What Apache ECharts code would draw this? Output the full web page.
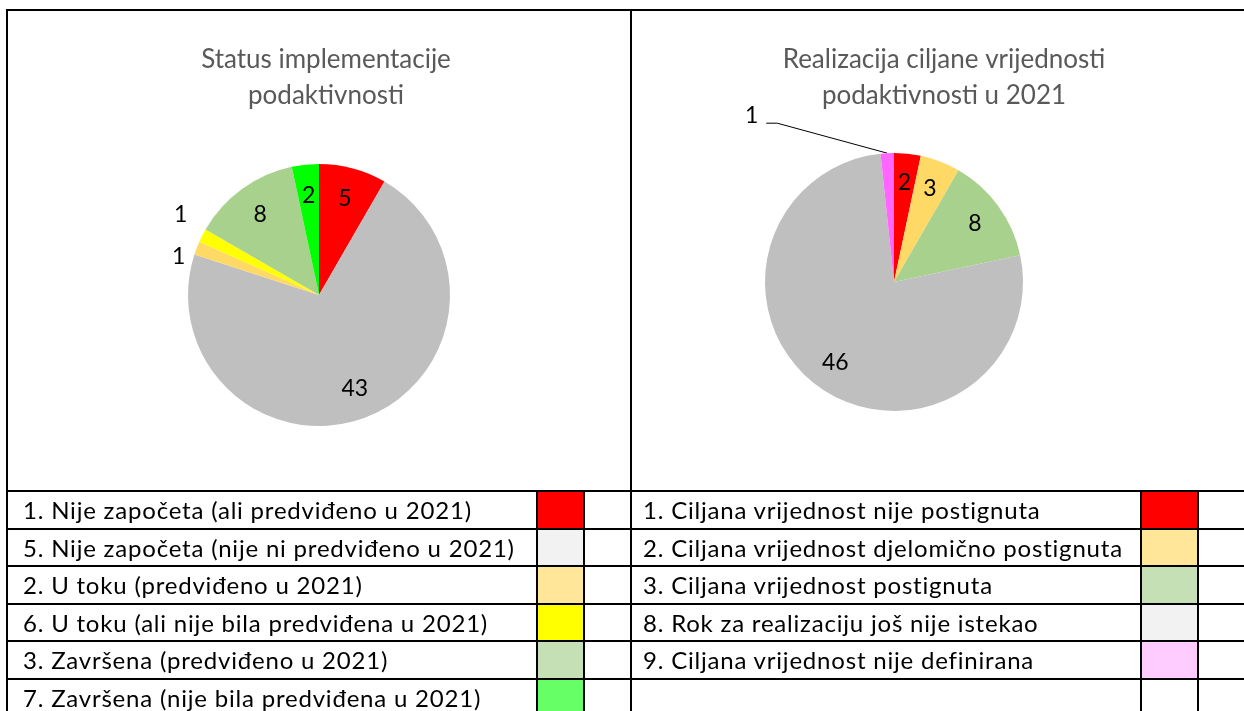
<!DOCTYPE html>
<html>
<head>
<meta charset="utf-8">
<script src="https://cdn.jsdelivr.net/npm/echarts@6/dist/echarts.min.js"></script>
<style>
body { margin: 0; background: #fff; }
#chart { position: absolute; left: 0; top: 0; width: 1244px; height: 711px; }
#table { position: absolute; left: 0; top: 0; width: 1244px; height: 711px; overflow: hidden; pointer-events: none; }
.ln { position: absolute; background: #000; }
.sw { position: absolute; }
.cell { position: absolute; font-family: Lato, sans-serif; font-size: 24px; letter-spacing: 0.8px; color: #000; white-space: nowrap; }
</style>
</head>
<body>
<div id="chart"></div>
<div id="table"></div>
<script>
// left chart: status of sub-activities
var statusNames = [
  '1. Nije započeta (ali predviđeno u 2021)',
  '5. Nije započeta (nije ni predviđeno u 2021)',
  '2. U toku (predviđeno u 2021)',
  '6. U toku (ali nije bila predviđena u 2021)',
  '3. Završena (predviđeno u 2021)',
  '7. Završena (nije bila predviđena u 2021)'
];
var statusValues = [5, 43, 1, 1, 8, 2];
var statusColors = ['#ff0000', '#bfbfbf', '#ffd966', '#ffff00', '#a9d18e', '#00ff00'];
var statusLegend = statusNames.slice();
var statusLegendColors = ['#ff0000', '#f2f2f2', '#ffe699', '#ffff00', '#c5e0b4', '#66ff66'];

// right chart: target value realisation
var targetNames = [
  '1. Ciljana vrijednost nije postignuta',
  '2. Ciljana vrijednost djelomično postignuta',
  '3. Ciljana vrijednost postignuta',
  '8. Rok za realizaciju još nije istekao',
  '9. Ciljana vrijednost nije definirana'
];
var targetValues = [2, 3, 8, 46, 1];
var targetColors = ['#ff0000', '#ffd966', '#a9d18e', '#bfbfbf', '#ff66ff'];
var targetLegend = targetNames.slice();
var targetLegendColors = ['#ff0000', '#ffe699', '#c5e0b4', '#f2f2f2', '#ffccff'];

var LABEL_R = 100;

// move inside labels further out, outside ones by a fixed nudge
function makeLayout(cx, cy, special) {
  return function (p) {
    if (special[p.dataIndex]) return special[p.dataIndex](p);
    var r = p.labelRect;
    var vx = r.x + r.width / 2 - cx, vy = r.y + r.height / 2 - cy;
    var len = Math.sqrt(vx * vx + vy * vy) || 1;
    return { dx: vx / len * LABEL_R - vx, dy: vy / len * LABEL_R - vy };
  };
}

function buildData(names, values, colors, outside) {
  return values.map(function (v, i) {
    var d = { value: v, name: names[i], itemStyle: { color: colors[i] } };
    if (outside[i]) {
      d.label = { position: 'outside' };
      d.labelLine = outside[i];
    }
    return d;
  });
}

var labelFont = { fontFamily: 'Lato', fontSize: 23, color: '#000' };
var titleFont = { fontFamily: 'Lato', fontSize: 26, fontWeight: 'normal', color: '#595959', lineHeight: 36 };

var myChart = echarts.init(document.getElementById('chart'));
myChart.setOption({
  animation: false,
  title: [
    { text: 'Status implementacije\npodaktivnosti', left: 326, top: 42, textAlign: 'center', padding: 0, textStyle: titleFont },
    { text: 'Realizacija ciljane vrijednosti\npodaktivnosti u 2021', left: 944, top: 42, textAlign: 'center', padding: 0, textStyle: titleFont }
  ],
  series: [
    {
      type: 'pie',
      center: [319, 295],
      radius: 131,
      startAngle: 90,
      clockwise: true,
      avoidLabelOverlap: false,
      silent: true,
      label: Object.assign({ show: true, position: 'inside', formatter: '{c}' }, labelFont),
      labelLine: { show: false },
      labelLayout: makeLayout(319, 295, {
        2: function () { return { dx: 3, dy: 12 }; },
        3: function () { return { dx: -1, dy: -16 }; }
      }),
      data: buildData(statusNames, statusValues, statusColors, {
        2: { show: false, length: 10, length2: 0 },
        3: { show: false, length: 10, length2: 0 }
      })
    },
    {
      type: 'pie',
      center: [894, 282],
      radius: 129,
      startAngle: 90,
      clockwise: true,
      avoidLabelOverlap: false,
      silent: true,
      label: Object.assign({ show: true, position: 'inside', formatter: '{c}' }, labelFont),
      labelLine: { show: false },
      labelLayout: makeLayout(894, 282, {
        4: function (p) {
          var e = p.labelLinePoints[0];
          return {
            x: e[0] - 129, y: e[1] - 38, align: 'right', verticalAlign: 'middle',
            labelLinePoints: [e, [e[0] - 110, e[1] - 30], [e[0] - 121, e[1] - 30]]
          };
        }
      }),
      data: buildData(targetNames, targetValues, targetColors, {
        4: { show: true, length: 10, length2: 10, lineStyle: { color: '#000', width: 1 } }
      })
    }
  ]
});

// legend table drawn underneath the charts
var table = document.getElementById('table');
function box(cls, x, y, w, h, bg) {
  var d = document.createElement('div');
  d.className = cls;
  d.style.left = x + 'px'; d.style.top = y + 'px';
  d.style.width = w + 'px'; d.style.height = h + 'px';
  if (bg) d.style.background = bg;
  table.appendChild(d);
  return d;
}
var ROW0 = 490, ROW_H = 37.5;
// outer frame
box('ln', 6, 9, 1238, 2);
box('ln', 6, 9, 2, 702);
box('ln', 630, 9, 2, 702);
for (var i = 0; i < 6; i++) {
  var y = Math.round(ROW0 + i * ROW_H);
  var yn = Math.round(ROW0 + (i + 1) * ROW_H);
  box('ln', 6, y, 1238, 2);
  if (i < statusLegend.length) {
    box('sw', 538, y + 2, 45, yn - y - 2, statusLegendColors[i]);
    var t = box('cell', 23, y + 2, 510, yn - y - 2);
    t.style.lineHeight = (yn - y - 2) + 'px';
    t.textContent = statusLegend[i];
  }
  if (i < targetLegend.length) {
    box('sw', 1142, y + 2, 55, yn - y - 2, targetLegendColors[i]);
    var t2 = box('cell', 643, y + 2, 495, yn - y - 2);
    t2.style.lineHeight = (yn - y - 2) + 'px';
    t2.textContent = targetLegend[i];
  }
}
[536, 583, 1140, 1197].forEach(function (x) { box('ln', x, ROW0, 2, 711 - ROW0); });

window.addEventListener('resize', function () { myChart.resize(); });
</script>
</body>
</html>
